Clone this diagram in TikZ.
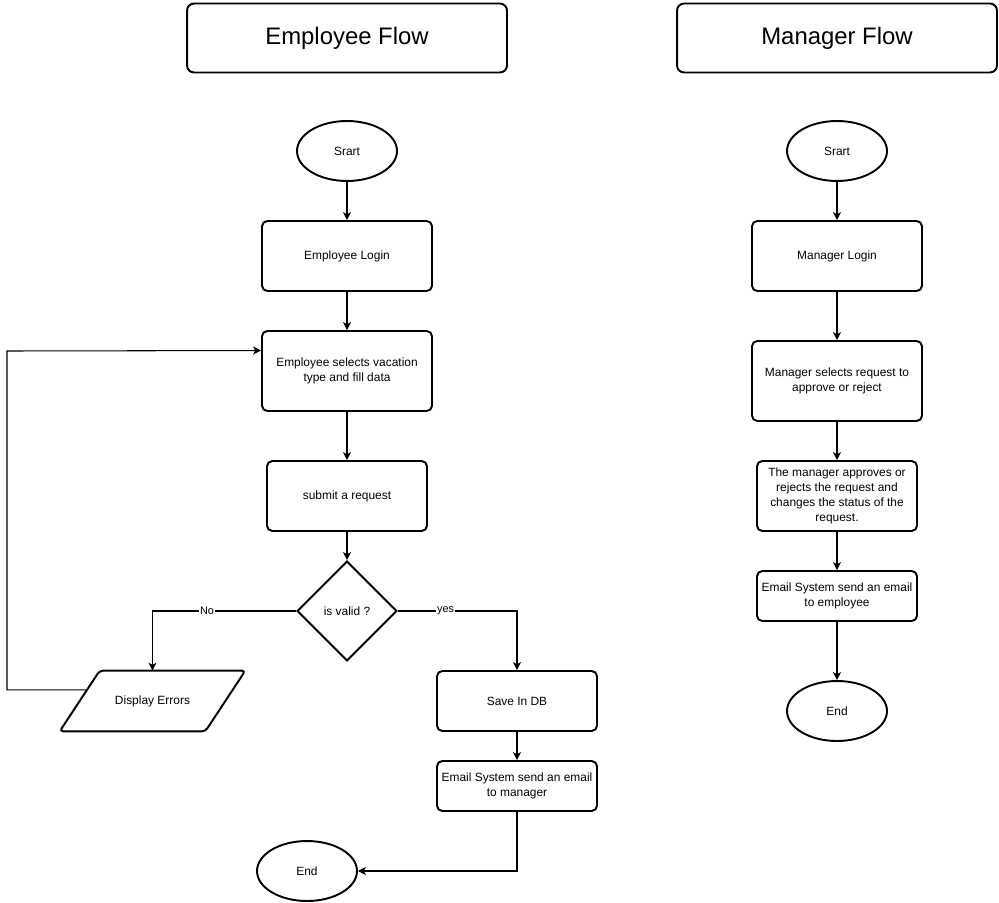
\documentclass[tikz,border=0pt]{standalone}
\usepackage{fontspec}
\setmainfont{Liberation Sans}
\usetikzlibrary{shapes.geometric,arrows.meta,positioning,calc}

\begin{document}
\begin{tikzpicture}[x=0.02cm, y=-0.02cm,
    txt/.style={font=\fontsize{6.8}{8.4}\selectfont, align=center, inner sep=1pt},
    title/.style={rectangle, rounded corners=4pt, draw, line width=1.1pt, minimum width=6.4cm, minimum height=1.38cm, font=\fontsize{13.6}{16}\selectfont},
    terminal/.style={txt, ellipse, draw, line width=1.1pt, minimum width=2cm, minimum height=1.2cm},
    process/.style={txt, rectangle, rounded corners=3pt, draw, line width=1.1pt, minimum width=3.2cm, minimum height=1.4cm},
    decision/.style={txt, diamond, aspect=1, draw, line width=1.1pt, minimum size=2cm},
    io/.style={txt, rectangle, minimum width=3.7cm, minimum height=1.2cm},
    lbl/.style={font=\fontsize{6.2}{7}\selectfont, fill=white, inner sep=0.5pt},
    arrow/.style={-{Stealth[length=4.5pt,width=4.5pt,inset=1.2pt]}, line width=0.6pt}]
  \useasboundingbox (0,0) rectangle (999,902);

  % titles
  \node[title] (empT) at (347,38) {Employee Flow};
  \node[title] (manT) at (837,38) {Manager Flow};

  % employee flow
  \node[terminal] (eStart) at (347,151) {Srart};
  \node[process, minimum width=3.4cm] (eLogin) at (347,256) {Employee Login};
  \node[process, minimum width=3.4cm, minimum height=1.6cm] (eSel) at (347,371) {Employee selects vacation\\type and fill data};
  \node[process] (eSub) at (347,496) {submit a request};
  \node[decision] (eValid) at (347,611) {is valid ?};
  \node[io] (eErr) at (152.5,701) {Display Errors};
  \draw[line width=1.1pt, rounded corners=2pt] (eErr.south west) -- ($(eErr.north west)+(40,0)$)
    -- (eErr.north east) -- ($(eErr.south east)+(-40,0)$) -- cycle;
  \node[process, minimum height=1.2cm] (eSave) at (517,701) {Save In DB};
  \node[process, minimum height=1cm] (eMail) at (517,786) {Email System send an email\\to manager};
  \node[terminal] (eEnd) at (307,871) {End};

  \draw[arrow] (eStart) -- (eLogin);
  \draw[arrow] (eLogin) -- (eSel);
  \draw[arrow] (eSel) -- (eSub);
  \draw[arrow] (eSub) -- (eValid);
  \draw[arrow] (eValid.west) -| node[lbl, pos=0.31] {No} (eErr.north);
  \draw[arrow] (eValid.east) -| node[lbl, pos=0.2] {yes} (eSave.north);
  \draw[arrow] (eSave) -- (eMail);
  \draw[arrow] (eMail.south) |- (eEnd.east);
  % back to data entry
  \coordinate (errOut) at ($(eErr.south west)!0.683!($(eErr.north west)+(40,0)$)$);
  \coordinate (selIn) at ($(eSel.north west)!0.25!(eSel.south west)$);
  \coordinate (back) at (7,351);
  \draw[arrow] (errOut) -| (back) -- (selIn);

  % manager flow
  \node[terminal] (mStart) at (837,151) {Srart};
  \node[process, minimum width=3.4cm] (mLogin) at (837,256) {Manager Login};
  \node[process, minimum width=3.4cm, minimum height=1.6cm] (mSel) at (837,381) {Manager selects request to\\approve or reject};
  \node[process] (mAppr) at (837,496) {The manager approves or\\rejects the request and\\changes the status of the\\request.};
  \node[process, minimum height=1cm] (mMail) at (837,596) {Email System send an email\\to employee};
  \node[terminal] (mEnd) at (837,711) {End};

  \draw[arrow] (mStart) -- (mLogin);
  \draw[arrow] (mLogin) -- (mSel);
  \draw[arrow] (mSel) -- (mAppr);
  \draw[arrow] (mAppr) -- (mMail);
  \draw[arrow] (mMail) -- (mEnd);
\end{tikzpicture}
\end{document}
